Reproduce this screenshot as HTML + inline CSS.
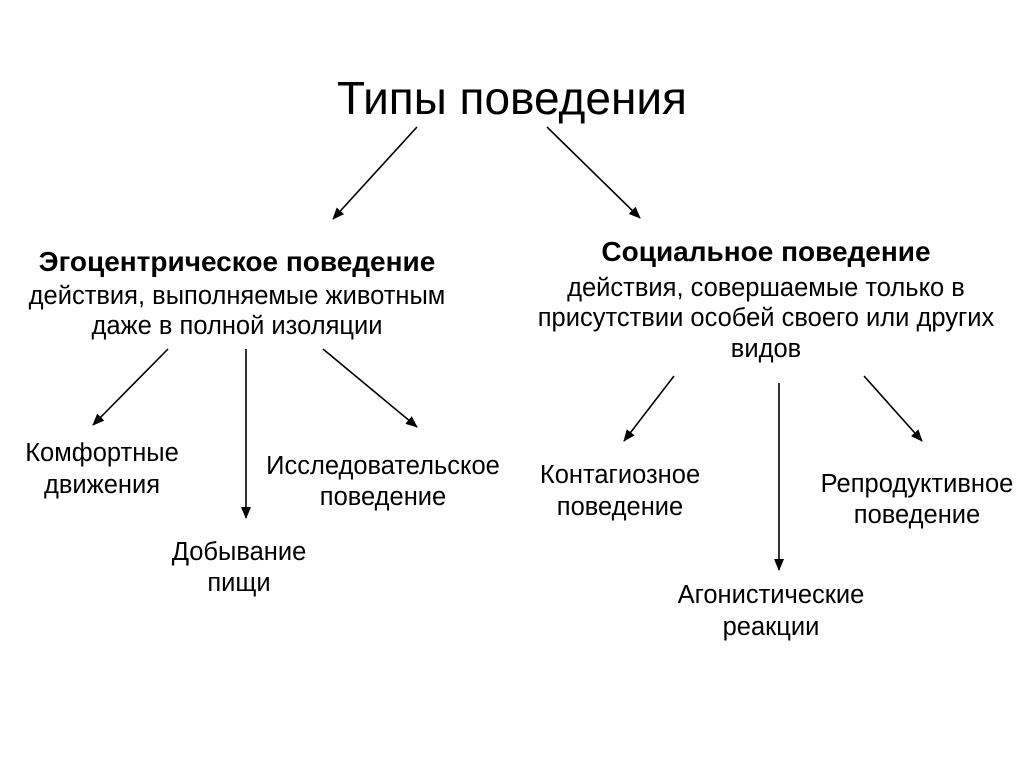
<!DOCTYPE html>
<html><head><meta charset="utf-8"><style>
html,body{margin:0;padding:0;background:#fff;}
svg{display:block;}
text{font-family:"Liberation Sans",Arial,sans-serif;fill:#000;text-anchor:middle;}
.t{font-size:25.5px;}
.b{font-size:28px;font-weight:bold;}
line{stroke:#000;stroke-width:1.6;}
</style></head><body>
<svg width="1024" height="767" viewBox="0 0 1024 767">
<defs><marker id="a" markerWidth="12" markerHeight="10" refX="11" refY="5" orient="auto" markerUnits="userSpaceOnUse"><path d="M0,0 L12,5 L0,10 Z" fill="#000"/></marker></defs>
<text x="512" y="114" style="font-size:46px">Типы поведения</text>
<line x1="417" y1="127" x2="333" y2="219" marker-end="url(#a)"/>
<line x1="547" y1="127" x2="640" y2="218" marker-end="url(#a)"/>
<text class="b" x="237" y="271">Эгоцентрическое поведение</text>
<text class="t" x="237" y="304">действия, выполняемые животным</text>
<text class="t" x="237" y="334">даже в полной изоляции</text>
<text class="b" x="766" y="261">Социальное поведение</text>
<text class="t" x="766" y="296">действия, совершаемые только в</text>
<text class="t" x="766" y="326">присутствии особей своего или других</text>
<text class="t" x="766" y="357">видов</text>
<line x1="168" y1="349" x2="93" y2="425" marker-end="url(#a)"/>
<line x1="246" y1="349" x2="246" y2="518" marker-end="url(#a)"/>
<line x1="323" y1="349" x2="417" y2="427" marker-end="url(#a)"/>
<line x1="674" y1="376" x2="624" y2="441" marker-end="url(#a)"/>
<line x1="779" y1="383" x2="779" y2="570" marker-end="url(#a)"/>
<line x1="864" y1="376" x2="922" y2="441" marker-end="url(#a)"/>
<text class="t" x="102" y="461">Комфортные</text>
<text class="t" x="102" y="493">движения</text>
<text class="t" x="383" y="474">Исследовательское</text>
<text class="t" x="383" y="505">поведение</text>
<text class="t" x="239" y="560">Добывание</text>
<text class="t" x="239" y="591">пищи</text>
<text class="t" x="620" y="483">Контагиозное</text>
<text class="t" x="620" y="515">поведение</text>
<text class="t" x="917" y="492">Репродуктивное</text>
<text class="t" x="917" y="523">поведение</text>
<text class="t" x="771" y="603">Агонистические</text>
<text class="t" x="771" y="635">реакции</text>
</svg>
</body></html>
